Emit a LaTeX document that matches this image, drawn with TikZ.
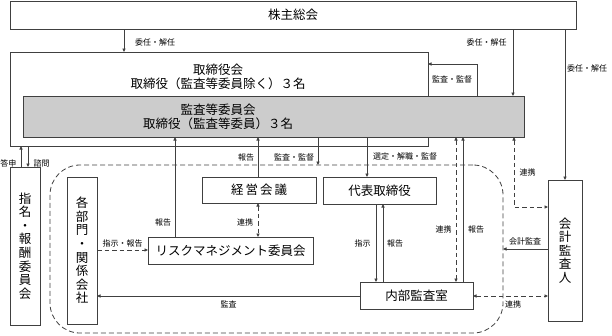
\documentclass[tikz,border=0pt]{standalone}
\usepackage{fontspec}
\setmainfont{Noto Sans CJK JP}
\usetikzlibrary{arrows.meta}
\definecolor{lc}{HTML}{404040}
\definecolor{grayfill}{HTML}{CCCCCC}
\begin{document}
\begin{tikzpicture}[x=1pt,y=-1pt,
  every node/.style={inner sep=0pt,outer sep=0pt},
  bx/.style={draw=lc,line width=0.8pt,fill=white},
  big/.style={font=\fontsize{12.5}{14}\selectfont},
  vtext/.style={font=\fontsize{12.5}{13.6}\selectfont,align=center},
  lab/.style={font=\fontsize{8}{9}\selectfont},
  arr/.style={draw=lc,line width=0.8pt,-{Triangle[length=3.5pt,width=3.2pt]}},
  darr/.style={draw=lc,line width=0.8pt,dash pattern=on 4.5pt off 3pt,{Triangle[length=3.5pt,width=3.2pt]}-{Triangle[length=3.5pt,width=3.2pt]}},
  sarr/.style={draw=lc,line width=0.8pt,dash pattern=on 4.5pt off 3pt,-{Triangle[length=3.5pt,width=3.2pt]}}]
\useasboundingbox (0,0) rectangle (612,335);

% group region
\node[draw=lc,line width=0.8pt,dash pattern=on 5pt off 3pt,rounded corners=30pt,
      minimum width=453pt,minimum height=168pt] (grp) at (276.5,249) {};

% boxes
\node[bx,minimum width=566pt,minimum height=28pt,big] (sh) at (293,15) {株主総会};
\node[bx,minimum width=418pt,minimum height=94pt] (board) at (219,99) {};
\node[big,align=center] (boardt) at (218,76.5) {取締役会\\取締役（監査等委員除く）３名};
\node[bx,fill=grayfill,minimum width=501pt,minimum height=41pt] (ac) at (273.5,116.5) {};
\node[big,align=center] (act) at (218,117) {監査等委員会\\取締役（監査等委員）３名};

\node[bx,minimum width=30pt,minimum height=158pt,vtext] (nom) at (25,246) {指\\名\\・\\報\\酬\\委\\員\\会};
\node[bx,minimum width=30pt,minimum height=147pt,vtext] (dept) at (82,250.5) {各\\部\\門\\・\\関\\係\\会\\社};
\node[bx,minimum width=114pt,minimum height=26pt,big] (keiei) at (259,190) {経\kern2pt 営\kern2pt 会\kern2pt 議};
\node[bx,minimum width=113pt,minimum height=27pt,big] (ceo) at (379.5,190.5) {代表取締役};
\node[bx,minimum width=165pt,minimum height=27pt,big] (risk) at (230.5,250.5) {リスクマネジメント委員会};
\node[bx,minimum width=113pt,minimum height=27pt,big] (ia) at (416.5,295.5) {内部監査室};
\node[bx,minimum width=34pt,minimum height=141pt,vtext] (aud) at (565,250.5) {会\\計\\監\\査\\人};

% connectors
\draw[arr] (124,0 |- sh.south) -- (124,0 |- board.north);
\node[lab] (l1) at (155,42) {委任・解任};
\draw[arr] (513,0 |- sh.south) -- (513,0 |- ac.north);
\node[lab] (l2) at (486.5,42) {委任・解任};
\draw[arr] (565,0 |- sh.south) -- (aud.north);
\node[lab] (l3) at (587,68) {委任・解任};

\draw[arr] (477,0 |- ac.north) -- (477,64) -- (board.east |- 0,64);
\node[lab] (l4) at (452,79) {監査・監督};

\draw[arr] (21,0 |- nom.north) -- (21,0 |- board.south);
\node[lab] (l5) at (8.5,163) {答申};
\draw[arr] (28,0 |- board.south) -- (28,0 |- nom.north);
\node[lab] (l6) at (41.5,163) {諮問};

\draw[arr] (175,0 |- risk.north) -- (175,0 |- ac.south);
\node[lab] (l7) at (163,222) {報告};
\draw[arr] (258,0 |- keiei.north) -- (258,0 |- ac.south);
\node[lab] (l8) at (246,157) {報告};
\draw[arr] (318,0 |- ac.south) -- (318,0 |- grp.north);
\node[lab] (l9) at (294,157) {監査・監督};
\draw[arr] (367,0 |- ac.south) -- (367,0 |- ceo.north);
\node[lab] (l10) at (405,156.5) {選定・解職・監督};

\draw[darr] (258,0 |- keiei.south) -- (258,0 |- risk.north);
\node[lab] (l11) at (245,222) {連携};
\draw[sarr] (dept.east |- 0,250) -- (risk.west |- 0,250);
\node[lab] (l12) at (122.5,243) {指示・報告};
\draw[arr] (ia.west |- 0,296) -- (dept.east |- 0,296);
\node[lab] (l13) at (228.5,304) {監査};

\draw[arr] (376,0 |- ceo.south) -- (376,0 |- ia.north);
\node[lab] (l14) at (362.5,243) {指示};
\draw[arr] (383,0 |- ia.north) -- (383,0 |- ceo.south);
\node[lab] (l15) at (395,243) {報告};

\draw[darr] (456,0 |- ac.south) -- (456,0 |- ia.north);
\node[lab] (l16) at (443.5,229) {連携};
\draw[arr] (463,0 |- ia.north) -- (463,0 |- ac.south);
\node[lab] (l17) at (476,229) {報告};

\draw[darr] (514,0 |- ac.south) -- (514,207) -- (aud.west |- 0,207);
\node[lab] (l18) at (527.5,172) {連携};
\draw[arr] (aud.west |- 0,249) -- (grp.east |- 0,249);
\node[lab] (l19) at (525,241) {会計監査};
\draw[darr] (ia.east |- 0,296) -- (aud.west |- 0,296);
\node[lab] (l20) at (513,304) {連携};
\end{tikzpicture}
\end{document}
